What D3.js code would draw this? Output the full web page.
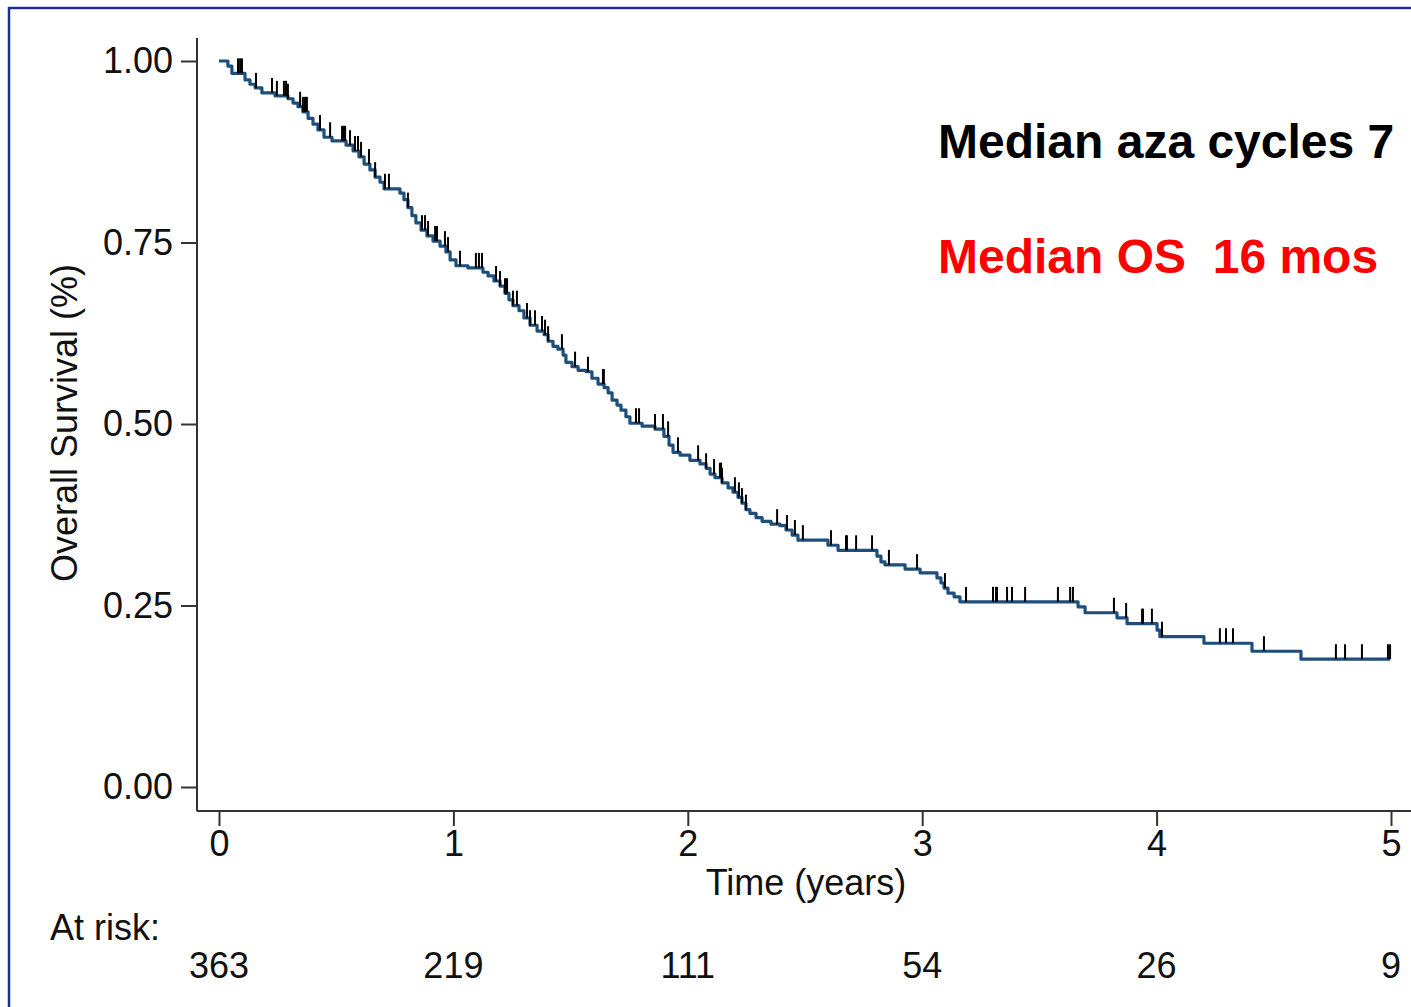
<!DOCTYPE html>
<html>
<head>
<meta charset="utf-8">
<script src="https://cdn.jsdelivr.net/npm/d3@7"></script>
<style>
  html, body { margin: 0; padding: 0; background: #fff; }
  svg { display: block; font-family: "Liberation Sans", Arial, sans-serif; }
</style>
</head>
<body>
<svg id="chart" width="1411" height="1007"></svg>
<script>
// Kaplan-Meier estimate: time (years) at which survival drops, and the new value
const stepTimes = [0, 0.038, 0.055, 0.111, 0.132, 0.154, 0.183, 0.239, 0.294, 0.316,
  0.337, 0.358, 0.380, 0.401, 0.422, 0.448, 0.482, 0.542, 0.572, 0.597,
  0.619, 0.644, 0.666, 0.687, 0.704, 0.772, 0.789, 0.806, 0.823, 0.840,
  0.862, 0.887, 0.913, 0.943, 0.968, 0.986, 1.011, 1.062, 1.126, 1.148,
  1.173, 1.199, 1.220, 1.237, 1.254, 1.280, 1.301, 1.327, 1.357, 1.387,
  1.404, 1.425, 1.446, 1.468, 1.480, 1.506, 1.532, 1.566, 1.591, 1.617,
  1.643, 1.660, 1.677, 1.698, 1.715, 1.736, 1.753, 1.805, 1.860, 1.898,
  1.920, 1.937, 1.967, 2.009, 2.052, 2.078, 2.095, 2.116, 2.146, 2.172,
  2.193, 2.214, 2.231, 2.248, 2.265, 2.291, 2.317, 2.355, 2.393, 2.419,
  2.445, 2.470, 2.598, 2.641, 2.807, 2.824, 2.841, 2.927, 2.991, 3.063,
  3.080, 3.093, 3.110, 3.136, 3.161, 3.665, 3.695, 3.831, 3.874, 4.002,
  4.014, 4.202, 4.407, 4.616];
const survival = [1.000, 0.993, 0.983, 0.974, 0.968, 0.963, 0.956, 0.952, 0.948, 0.942,
  0.937, 0.930, 0.921, 0.913, 0.905, 0.895, 0.890, 0.884, 0.876, 0.868,
  0.858, 0.850, 0.840, 0.833, 0.824, 0.818, 0.809, 0.798, 0.787, 0.777,
  0.767, 0.759, 0.752, 0.745, 0.737, 0.726, 0.718, 0.715, 0.709, 0.704,
  0.697, 0.690, 0.680, 0.671, 0.663, 0.656, 0.646, 0.636, 0.628, 0.623,
  0.614, 0.607, 0.603, 0.595, 0.585, 0.579, 0.574, 0.572, 0.563, 0.555,
  0.550, 0.543, 0.533, 0.526, 0.519, 0.510, 0.501, 0.497, 0.493, 0.483,
  0.471, 0.461, 0.457, 0.450, 0.445, 0.439, 0.431, 0.426, 0.419, 0.412,
  0.406, 0.399, 0.391, 0.382, 0.377, 0.371, 0.366, 0.362, 0.360, 0.354,
  0.347, 0.340, 0.333, 0.326, 0.318, 0.310, 0.306, 0.300, 0.295, 0.288,
  0.281, 0.274, 0.267, 0.262, 0.255, 0.248, 0.240, 0.233, 0.225, 0.216,
  0.207, 0.198, 0.187, 0.176];

// Censored observations (years)
const censorTimes = [0.081, 0.090, 0.098, 0.158, 0.226, 0.247, 0.277, 0.286, 0.294, 0.346,
  0.358, 0.367, 0.375, 0.431, 0.474, 0.525, 0.529, 0.533, 0.538, 0.559,
  0.580, 0.593, 0.606, 0.640, 0.666, 0.708, 0.725, 0.806, 0.866, 0.879,
  0.892, 0.922, 0.930, 0.964, 0.977, 1.028, 1.096, 1.109, 1.122, 1.182,
  1.199, 1.220, 1.224, 1.229, 1.254, 1.271, 1.314, 1.327, 1.348, 1.378,
  1.391, 1.404, 1.463, 1.519, 1.574, 1.638, 1.642, 1.779, 1.792, 1.860,
  1.894, 1.916, 1.958, 2.044, 2.078, 2.112, 2.137, 2.142, 2.146, 2.201,
  2.218, 2.231, 2.248, 2.381, 2.423, 2.457, 2.491, 2.611, 2.675, 2.679,
  2.718, 2.786, 2.858, 2.978, 3.097, 3.187, 3.302, 3.315, 3.319, 3.362,
  3.383, 3.439, 3.579, 3.631, 3.643, 3.818, 3.870, 3.938, 3.942, 3.980,
  4.023, 4.270, 4.296, 4.326, 4.458, 4.765, 4.804, 4.876, 4.987, 4.996];

const xTicks = [0, 1, 2, 3, 4, 5];
const yTicks = [0, 0.25, 0.5, 0.75, 1];
const atRisk = [363, 219, 111, 54, 26, 9];

const svg = d3.select("#chart");
const W = 1411, H = 1007;
const FS = 36;

// panel frame (left and top edges)
svg.append("path")
  .attr("d", `M9,${H} V8 H${W}`)
  .attr("fill", "none")
  .attr("stroke", "#1f2f8f")
  .attr("stroke-width", 2.5);

const x = d3.scaleLinear().domain([0, 5]).range([219, 1391]);
const y = d3.scaleLinear().domain([0, 1]).range([787, 61]);
const axisX = 197, axisY = 811;
const axisColor = "#333";

// axis lines
svg.append("line").attr("x1", axisX).attr("x2", axisX).attr("y1", 38).attr("y2", axisY)
  .attr("stroke", axisColor).attr("stroke-width", 2);
svg.append("line").attr("x1", axisX).attr("x2", W).attr("y1", axisY).attr("y2", axisY)
  .attr("stroke", axisColor).attr("stroke-width", 2);

const gy = svg.append("g").attr("transform", `translate(${axisX},0)`)
  .call(d3.axisLeft(y).tickValues(yTicks).tickFormat(d3.format(".2f"))
    .tickSize(16).tickSizeOuter(0).tickPadding(8));
const gx = svg.append("g").attr("transform", `translate(0,${axisY})`)
  .call(d3.axisBottom(x).tickValues(xTicks).tickFormat(d3.format("d"))
    .tickSize(15).tickSizeOuter(0).tickPadding(4));
[gx, gy].forEach(g => {
  g.select(".domain").remove();
  g.selectAll(".tick line").attr("stroke", axisColor).attr("stroke-width", 2);
  g.selectAll(".tick text").attr("fill", "#111")
    .style("font-size", FS + "px").style("font-family", "'Liberation Sans', Arial, sans-serif");
});

// axis titles
svg.append("text")
  .attr("transform", "translate(77,423) rotate(-90)")
  .attr("text-anchor", "middle")
  .attr("font-size", FS).attr("fill", "#111")
  .text("Overall Survival (%)");
svg.append("text")
  .attr("x", 806).attr("y", 895)
  .attr("text-anchor", "middle")
  .attr("font-size", FS).attr("fill", "#111")
  .text("Time (years)");

// survival curve
const pts = stepTimes.map((t, i) => [t, survival[i]]);
const lastCensor = d3.max(censorTimes);
pts.push([lastCensor, survival[survival.length - 1]]);
svg.append("path")
  .datum(pts)
  .attr("fill", "none")
  .attr("stroke", "#1d4e7c")
  .attr("stroke-width", 3.2)
  .attr("stroke-linejoin", "round")
  .attr("d", d3.line().x(d => x(d[0])).y(d => y(d[1])).curve(d3.curveStepAfter));

// censor marks sit on the curve at the survival level in effect
const bis = d3.bisector(d => d).right;
const survAt = t => survival[Math.max(0, bis(stepTimes, t) - 1)];
svg.append("g").selectAll("line")
  .data(censorTimes)
  .join("line")
  .attr("x1", d => x(d)).attr("x2", d => x(d))
  .attr("y1", d => y(survAt(d)))
  .attr("y2", d => y(survAt(d)) - 15)
  .attr("stroke", "#000")
  .attr("stroke-width", 2);

// number at risk
svg.append("text")
  .attr("x", 50).attr("y", 940)
  .attr("font-size", FS).attr("fill", "#111")
  .text("At risk:");
svg.append("g").selectAll("text")
  .data(atRisk)
  .join("text")
  .attr("x", (d, i) => x(xTicks[i]))
  .attr("y", 978)
  .attr("text-anchor", "middle")
  .attr("font-size", FS).attr("fill", "#111")
  .text(d => d);

// annotations
svg.append("text")
  .attr("x", 938).attr("y", 158)
  .attr("font-size", 48).attr("font-weight", "bold").attr("fill", "#000")
  .text("Median aza cycles 7");
svg.append("text")
  .attr("x", 938).attr("y", 273)
  .attr("font-size", 48).attr("font-weight", "bold").attr("fill", "#ff0000")
  .style("white-space", "pre")
  .text("Median OS  16 mos");
</script>
</body>
</html>
